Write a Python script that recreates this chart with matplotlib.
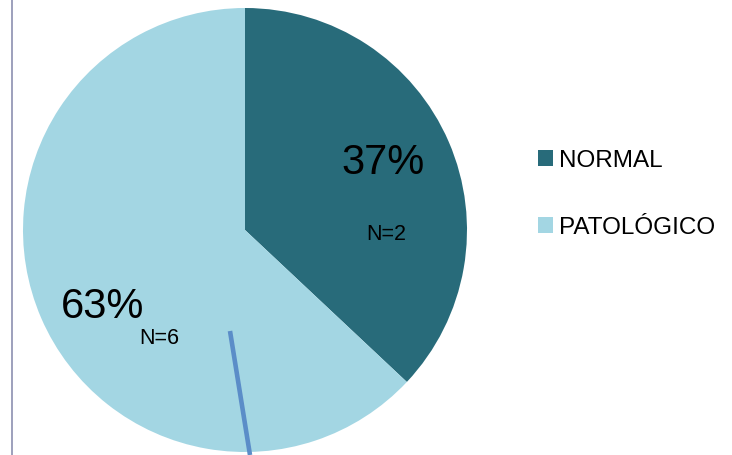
import matplotlib
matplotlib.use("Agg")
import matplotlib.pyplot as plt
from matplotlib.lines import Line2D

plt.rcParams['font.family'] = ['Liberation Sans', 'DejaVu Sans']

categories = ["NORMAL", "PATOLÓGICO"]
percent = [37, 63]
counts = ["N=2", "N=6"]
colors = ["#286B7A", "#A3D6E3"]

W, H = 732, 455
fig = plt.figure(figsize=(W / 100, H / 100), dpi=100)

# pie axes: centre (245,230) px, radius 222 px
cx, cy, r = 245, 230, 222
ax = fig.add_axes([(cx - r) / W, (H - cy - r) / H, 2 * r / W, 2 * r / H])
wedges, _ = ax.pie(percent, colors=colors, startangle=90, counterclock=False,
                   radius=1, wedgeprops=dict(linewidth=0))
ax.set_xlim(-1, 1)
ax.set_ylim(-1, 1)
ax.set_aspect('equal')
ax.axis('off')

# percent labels and counts
ax.text(0.62, 0.30, f"{percent[0]}%", fontsize=30, ha='center', va='center')
ax.text(0.635, -0.02, counts[0], fontsize=15.5, ha='center', va='center')
ax.text(-0.64, -0.345, f"{percent[1]}%", fontsize=30, ha='center', va='center')
ax.text(-0.387, -0.49, counts[1], fontsize=15.5, ha='center', va='center')

# legend
fig.legend(wedges, categories, loc='upper left', bbox_to_anchor=(528 / W, 1 - 140 / H),
           frameon=False, fontsize=17.5, handlelength=0.63, handleheight=0.63,
           handletextpad=0.25, labelspacing=1.85, borderaxespad=0)

# frame line on the left and stray connector line
fig.add_artist(Line2D([12 / W, 12 / W], [0, 1], color="#8C90B0", lw=1.2,
                      transform=fig.transFigure))
fig.add_artist(Line2D([230 / W, 250 / W], [1 - 331 / H, 0], color="#5B8DC8", lw=3.3,
                      transform=fig.transFigure, solid_capstyle='butt'))

fig.savefig("out.png", dpi=100)
